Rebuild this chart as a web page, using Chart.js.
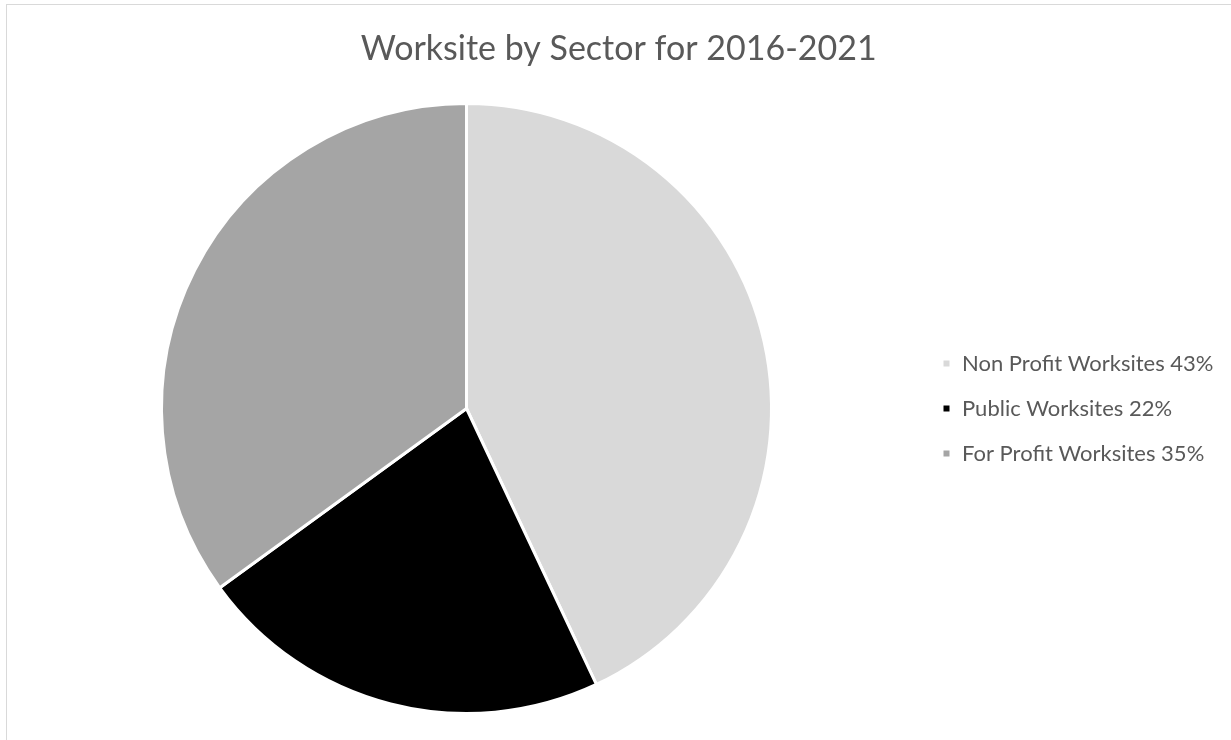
<!DOCTYPE html>
<html>
<head>
<meta charset="utf-8">
<script src="https://cdn.jsdelivr.net/npm/chart.js@4"></script>
<style>
  html, body { margin: 0; padding: 0; background: #fff; overflow: hidden; }
  #frame { position: absolute; left: 6px; top: 4px; width: 1300px; height: 800px;
           border: 1.5px solid #d9d9d9; box-sizing: border-box; }
  #chart { position: absolute; left: 0; top: 0; }
</style>
</head>
<body>
<div id="frame"></div>
<canvas id="chart" width="1231" height="740"></canvas>
<script>
// --- Data ---
const sectors = ['Non Profit Worksites', 'Public Worksites', 'For Profit Worksites'];
const shares = [43, 22, 35];
const sliceColors = ['#d9d9d9', '#000000', '#a5a5a5'];
const chartTitle = 'Worksite by Sector for 2016-2021';

const textColor = '#595959';
const labels = sectors.map((s, i) => `${s} ${shares[i]}%`);

// legend box should start near x=942, pie centred at x=466.5
const legendPad = 23;
const legendBoxLeft = 942;

const chart = new Chart(document.getElementById('chart'), {
    type: 'pie',
    data: {
        labels: labels,
        datasets: [{
            data: shares,
            backgroundColor: sliceColors,
            borderColor: '#ffffff',
            borderWidth: 3
        }]
    },
    options: {
        responsive: false,
        animation: false,
        layout: { padding: { left: 14, right: 19, top: 0, bottom: 25 } },
        plugins: {
            tooltip: { enabled: false },
            title: {
                display: true,
                text: chartTitle,
                color: textColor,
                font: { family: 'Lato', size: 34, weight: 'normal' },
                padding: { top: 28.6, bottom: 32.6 }
            },
            legend: {
                position: 'right',
                align: 'center',
                fullSize: false, // keep it centred on the pie, not the whole canvas
                labels: {
                    color: textColor,
                    font: { family: 'Lato', size: 22 },
                    boxWidth: 9,
                    boxHeight: 9,
                    padding: legendPad
                }
            }
        }
    }
});

// nudge the paddings so the legend and pie land where they do in the original
const chartRight = legendBoxLeft - legendPad;
chart.options.layout.padding.right = Math.max(0, 1231 - chartRight - chart.legend.width);
chart.options.layout.padding.left = Math.max(0, 2 * 466.5 - chartRight);
chart.update('none');
</script>
</body>
</html>
